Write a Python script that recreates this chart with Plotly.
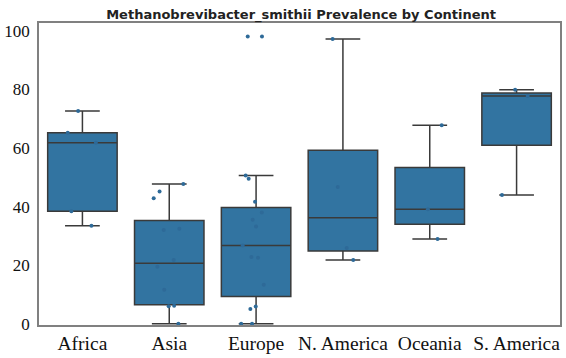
import plotly.graph_objects as go

continents = ["Africa", "Asia", "Europe", "N. America", "Oceania", "S. America"]

# box statistics
q1 = [38.4, 6.5, 9.3, 24.9, 34.0, 61.0]
median = [61.8, 20.7, 26.7, 36.2, 39.1, 77.8]
q3 = [65.2, 35.3, 39.7, 59.3, 53.4, 78.8]
lower_whisker = [33.5, 0.0, 0.0, 21.8, 29.0, 44.0]
upper_whisker = [72.7, 47.7, 50.6, 97.2, 67.8, 79.9]

# individual samples (strip points)
africa_pts = [72.7, 65.2, 61.8, 38.4, 33.5]
asia_pts = [47.7, 45.2, 42.9, 32.5, 32.0, 21.8, 19.5, 11.6, 6.2, 6.0, 0.0]
europe_pts = [98.1, 98.1, 50.6, 49.5, 41.7, 38.0, 35.5, 33.2, 26.7, 22.8, 22.6, 13.3, 5.9, 5.1, 0.0, 0.0]
namerica_pts = [97.2, 46.7, 25.9, 21.8]
oceania_pts = [67.8, 39.1, 29.0]
samerica_pts = [79.9, 77.8, 44.0]

y_ticks = [0, 20, 40, 60, 80, 100]

point_groups = [africa_pts, asia_pts, europe_pts, namerica_pts, oceania_pts, samerica_pts]
px_, py_ = [], []
for c, pts in zip(continents, point_groups):
    px_ += [c] * len(pts)
    py_ += pts

serif = "Liberation Serif, Times New Roman, serif"

fig = go.Figure()
fig.add_trace(go.Box(
    x=continents, q1=q1, median=median, q3=q3,
    lowerfence=lower_whisker, upperfence=upper_whisker,
    boxpoints=False, fillcolor="#3274a1", width=0.8,
    line=dict(color="#3a3a3a", width=1.5),
    whiskerwidth=0.5, showlegend=False, hoverinfo="skip",
))
fig.add_trace(go.Box(
    x=px_, y=py_, boxpoints="all", jitter=0.5, pointpos=0, width=0.8,
    fillcolor="rgba(0,0,0,0)", line=dict(color="rgba(0,0,0,0)", width=0),
    marker=dict(color="#2e6a98", size=4), showlegend=False,
))

fig.update_layout(
    width=566, height=358,
    margin=dict(l=38, r=4, t=23, b=33),
    paper_bgcolor="white", plot_bgcolor="white",
    boxmode="overlay",
    title=dict(text="<b>Methanobrevibacter_smithii Prevalence by Continent</b>",
               x=0.532, xanchor="center", y=0.96, yanchor="middle",
               font=dict(family="DejaVu Sans", size=13, color="#222")),
    xaxis=dict(showline=True, mirror=True, linecolor="#808080", linewidth=1.5,
               showgrid=False, ticks="", zeroline=False, range=[-0.5, 5.5],
               tickfont=dict(family=serif, size=19.5, color="#111")),
    yaxis=dict(showline=True, mirror=True, linecolor="#808080", linewidth=1.5,
               showgrid=False, ticks="", zeroline=False, range=[-0.4, 102.7],
               tickvals=y_ticks, ticklabelstandoff=4,
               tickfont=dict(family=serif, size=17, color="#111")),
)
fig.write_html("out.html")
